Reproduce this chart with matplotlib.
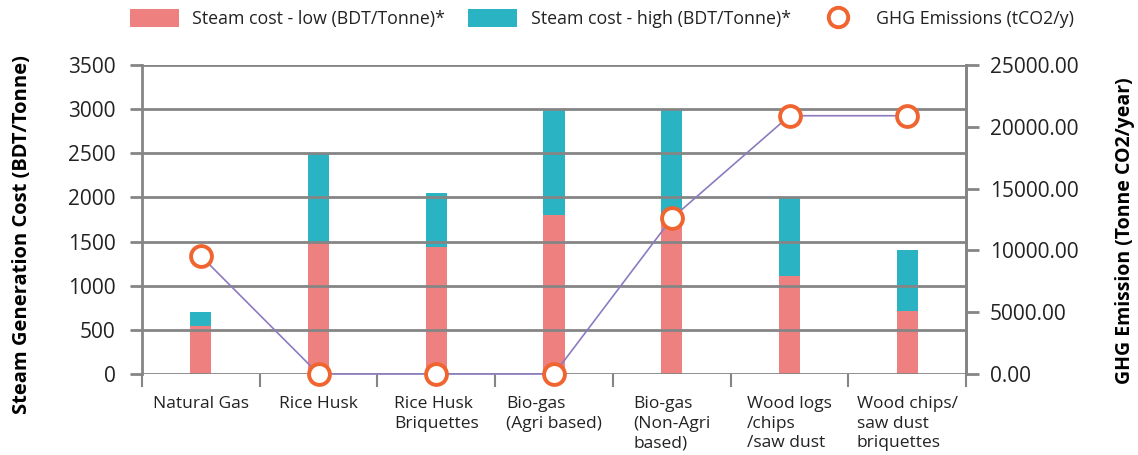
import matplotlib.pyplot as plt
import numpy as np
from matplotlib.ticker import FormatStrFormatter
from matplotlib.lines import Line2D

# data
categories = ['Natural Gas', 'Rice Husk', 'Rice Husk\nBriquettes', 'Bio-gas\n(Agri based)',
              'Bio-gas\n(Non-Agri\nbased)', 'Wood logs\n/chips\n/saw dust', 'Wood chips/\nsaw dust\nbriquettes']
cost_low = [540, 1500, 1440, 1800, 1750, 1110, 710]
cost_high = [700, 2500, 2045, 3000, 3000, 2000, 1400]
ghg = [9550, 0, 0, 0, 12600, 20900, 20900]

pink = '#EF8080'
teal = '#2AB3C3'
orange = '#F0652F'
purple = '#8D7BC0'
grey = '#858585'

plt.rcParams['font.family'] = ['Open Sans', 'DejaVu Sans']
plt.rcParams['text.color'] = '#222222'
plt.rcParams['xtick.color'] = '#222222'
plt.rcParams['ytick.color'] = '#222222'

fig = plt.figure(figsize=(11.38, 4.55), dpi=100)
ax = fig.add_axes([0.1248, 0.178, 0.7242, 0.679])

x = np.arange(len(categories))
upper = [h - l for h, l in zip(cost_high, cost_low)]
b1 = ax.bar(x, cost_low, width=0.18, color=pink, zorder=1, label='Steam cost - low (BDT/Tonne)*')
b2 = ax.bar(x, upper, bottom=cost_low, width=0.18, color=teal, zorder=1, label='Steam cost - high (BDT/Tonne)*')

ax.set_xlim(-0.5, len(categories) - 0.5)
ax.set_ylim(0, 3500)
ax.set_yticks(np.arange(0, 3501, 500))
ax.yaxis.grid(True, color=grey, linewidth=2, zorder=2)
ax.set_axisbelow(False)

ax.set_xticks(x)
ax.set_xticklabels(categories, fontsize=12.5, ha='center', multialignment='left', linespacing=1.3)
ax.set_xticks(np.arange(-0.5, len(categories), 1), minor=True)
ax.tick_params(axis='x', which='major', length=0, pad=16)
ax.tick_params(axis='x', which='minor', length=9, color=grey, width=1.5)
ax.tick_params(axis='y', length=9, color=grey, width=2, labelsize=15, pad=10)

for s in ['top', 'bottom']:
    ax.spines[s].set_visible(False)
for s in ['left', 'right']:
    ax.spines[s].set_color(grey)
    ax.spines[s].set_linewidth(2)

ax.set_ylabel('Steam Generation Cost (BDT/Tonne)', fontsize=14.5, fontweight='bold')
ax.yaxis.set_label_coords(-0.1335, 0.45)

ax2 = ax.twinx()
ln, = ax2.plot(x, ghg, color=purple, linewidth=1.2, marker='o', markersize=15,
               markerfacecolor='white', markeredgecolor=orange, markeredgewidth=2.8,
               label='GHG Emissions (tCO2/y)', clip_on=False)
ax2.set_ylim(0, 25000)
ax2.set_yticks(np.arange(0, 25001, 5000))
ax2.yaxis.set_major_formatter(FormatStrFormatter('%.2f'))
ax2.tick_params(axis='y', length=9, color=grey, width=2, labelsize=15, pad=8)
for s in ['top', 'bottom', 'left']:
    ax2.spines[s].set_visible(False)
ax2.spines['right'].set_color(grey)
ax2.spines['right'].set_linewidth(2)
ax2.set_ylabel('GHG Emission (Tonne CO2/year)', fontsize=14, fontweight='bold')
ax2.yaxis.set_label_coords(1.181, 0.465)

# legend marker handle without line
mk = Line2D([], [], linestyle='none', marker='o', markersize=14, markerfacecolor='white',
            markeredgecolor=orange, markeredgewidth=2.8)
fig.legend([b1, b2, mk], [b1.get_label(), b2.get_label(), ln.get_label()],
           loc='upper center', bbox_to_anchor=(0.529, 1.015), ncol=3, frameon=False,
           fontsize=12.8, handlelength=2.76, handleheight=1.2, columnspacing=1.3, handletextpad=0.75)

fig.savefig('out.png', dpi=100)
